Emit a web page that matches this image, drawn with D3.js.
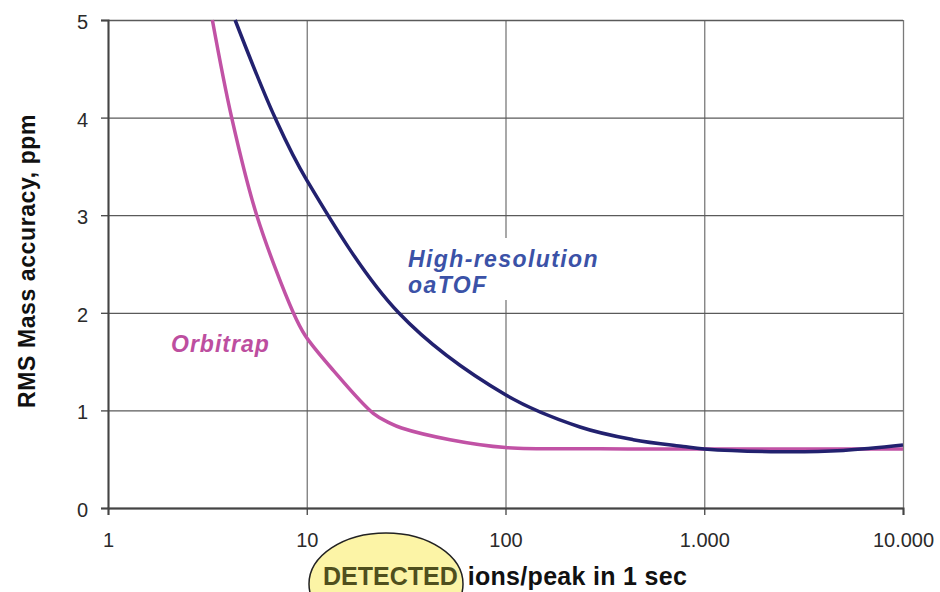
<!DOCTYPE html>
<html>
<head>
<meta charset="utf-8">
<script src="https://cdn.jsdelivr.net/npm/d3@7"></script>
<style>
  body { margin: 0; background: #fff; }
  svg { display: block; font-family: "Liberation Sans", Arial, sans-serif; }
</style>
</head>
<body>
<div id="plot"></div>
<script>
// ions detected per peak (log axis) vs RMS mass accuracy (ppm)
const xTicks = [1, 10, 100, 1000, 10000];
const xTickLabels = ["1", "10", "100", "1.000", "10.000"];
const yTicks = [0, 1, 2, 3, 4, 5];

const orbitrapIons = [3.35, 4.19, 5.6, 8.56, 9.8, 13.6, 21.6, 26.2, 30, 52.6, 100, 300, 1000, 10000];
const orbitrapPpm  = [5, 4, 3, 2, 1.77, 1.41, 0.97, 0.87, 0.82, 0.70, 0.62, 0.607, 0.605, 0.605];

const tofIons = [4.36, 6.92, 10, 29, 100, 237, 439, 783, 1000, 2400, 5000, 10000];
const tofPpm  = [5, 4, 3.36, 2, 1.16, 0.83, 0.70, 0.63, 0.605, 0.577, 0.59, 0.645];

const width = 940;
const height = 592;
const mLeft = 108, mRight = 903, mTop = 20, mBottom = 508;

const svg = d3.select("#plot")
  .append("svg")
  .attr("width", width)
  .attr("height", height);

const x = d3.scaleLog().domain([1, 10000]).range([mLeft, mRight]);
const y = d3.scaleLinear().domain([0, 5]).range([mBottom, mTop]);

// grid
svg.append("g")
  .attr("transform", `translate(0, ${mBottom})`)
  .call(d3.axisBottom(x).tickValues(xTicks).tickSize(-(mBottom - mTop)).tickFormat(""))
  .call(g => g.select(".domain").remove())
  .call(g => g.selectAll("line").attr("stroke", "#7a7a7a").attr("stroke-width", 1.3));

svg.append("g")
  .attr("transform", `translate(${mLeft}, 0)`)
  .call(d3.axisLeft(y).tickValues(yTicks).tickSize(-(mRight - mLeft)).tickFormat(""))
  .call(g => g.select(".domain").remove())
  .call(g => g.selectAll("line").attr("stroke", "#5a5a5a").attr("stroke-width", 1.3));

// axes
const xAxis = svg.append("g")
  .attr("transform", `translate(0, ${mBottom})`)
  .call(d3.axisBottom(x).tickValues(xTicks).tickSize(7).tickFormat((d, i) => xTickLabels[i]));
xAxis.select(".domain").attr("stroke", "#444").attr("stroke-width", 2);
xAxis.selectAll("line").attr("stroke", "#444").attr("stroke-width", 1.3);
xAxis.selectAll("text")
  .attr("y", 39).attr("dy", 0)
  .attr("font-size", 20)
  .attr("font-family", "Liberation Sans, Arial, sans-serif")
  .attr("fill", "#2a2a2a");

const yAxis = svg.append("g")
  .attr("transform", `translate(${mLeft}, 0)`)
  .call(d3.axisLeft(y).tickValues(yTicks).tickSize(7).tickFormat(d3.format("d")));
yAxis.select(".domain").attr("stroke", "#444").attr("stroke-width", 2);
yAxis.selectAll("line").attr("stroke", "#444").attr("stroke-width", 1.3);
yAxis.selectAll("text")
  .attr("x", -20).attr("dy", 8.5)
  .attr("font-size", 20)
  .attr("font-family", "Liberation Sans, Arial, sans-serif")
  .attr("fill", "#2a2a2a");

// curves
const line = d3.line()
  .x(d => x(d[0]))
  .y(d => y(d[1]))
  .curve(d3.curveCatmullRom.alpha(0.5));

svg.append("path")
  .datum(orbitrapIons.map((v, i) => [v, orbitrapPpm[i]]))
  .attr("d", line)
  .attr("fill", "none")
  .attr("stroke", "#c152a5")
  .attr("stroke-width", 3.5);

svg.append("path")
  .datum(tofIons.map((v, i) => [v, tofPpm[i]]))
  .attr("d", line)
  .attr("fill", "none")
  .attr("stroke", "#22216f")
  .attr("stroke-width", 3.5);

// labels
svg.append("rect")
  .attr("x", 400).attr("y", 238)
  .attr("width", 205).attr("height", 62)
  .attr("fill", "#fff");

const tofLabel = svg.append("text")
  .attr("x", 408).attr("y", 267)
  .attr("font-size", 23)
  .attr("font-weight", "bold")
  .attr("font-style", "italic")
  .attr("letter-spacing", 1.4)
  .attr("fill", "#3b52a7");
tofLabel.append("tspan").attr("x", 408).text("High-resolution");
tofLabel.append("tspan").attr("x", 408).attr("dy", 26).text("oaTOF");

svg.append("text")
  .attr("x", 171).attr("y", 352)
  .attr("font-size", 23)
  .attr("font-weight", "bold")
  .attr("font-style", "italic")
  .attr("letter-spacing", 1)
  .attr("fill", "#bd4e9f")
  .text("Orbitrap");

// axis titles
svg.append("text")
  .attr("transform", "translate(35, 261) rotate(-90)")
  .attr("text-anchor", "middle")
  .attr("font-size", 23)
  .attr("font-weight", "bold")
  .attr("letter-spacing", 0.6)
  .attr("fill", "#111")
  .text("RMS Mass accuracy, ppm");

svg.append("ellipse")
  .attr("cx", 386).attr("cy", 584)
  .attr("rx", 77).attr("ry", 51)
  .attr("fill", "#fcf4a6")
  .attr("stroke", "#222")
  .attr("stroke-width", 1.5);

const xTitle = svg.append("text")
  .attr("x", 323).attr("y", 585)
  .attr("font-size", 25)
  .attr("font-weight", "bold");
xTitle.append("tspan").attr("fill", "#4f4f1d").text("DETECTED");
xTitle.append("tspan").attr("fill", "#111").attr("dx", 10).attr("letter-spacing", 0.3).text("ions/peak in 1 sec");
</script>
</body>
</html>
